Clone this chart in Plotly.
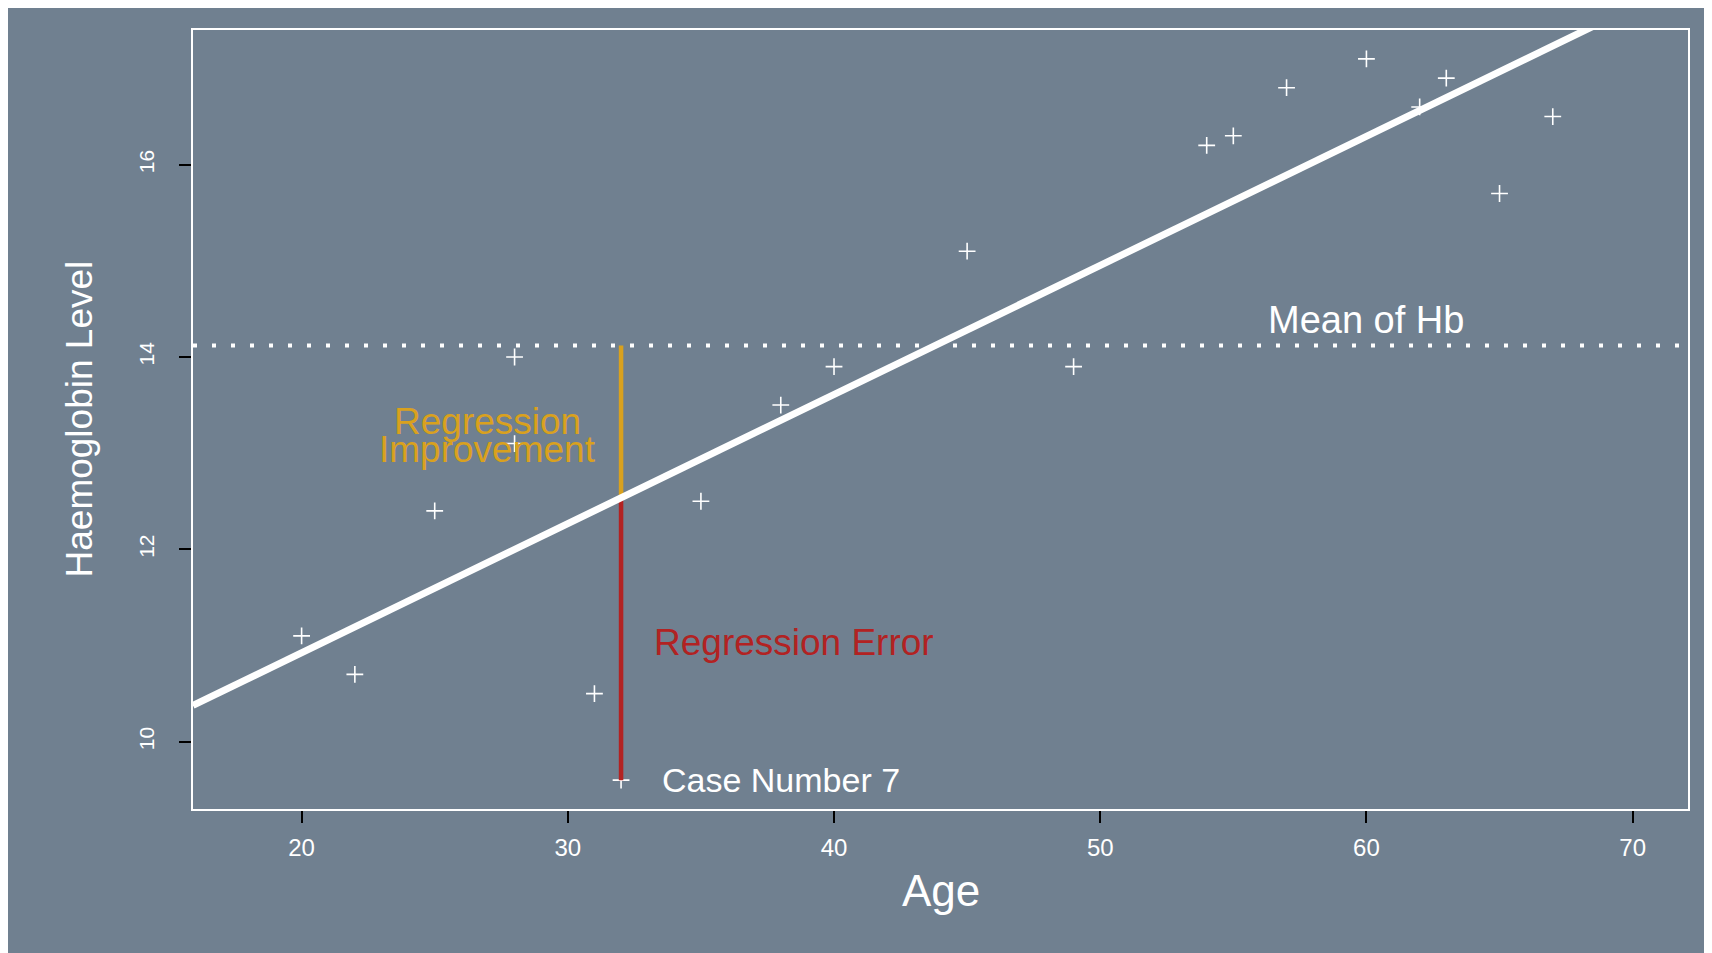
import numpy as np
import plotly.graph_objects as go

# ---- data ----
age = [20, 22, 25, 28, 28, 31, 32, 35, 38, 40, 45, 49, 54, 55, 57, 60, 62, 63, 65, 67]
hb = [11.1, 10.7, 12.4, 14.0, 13.1, 10.5, 9.6, 12.5, 13.5, 13.9, 15.1, 13.9,
      16.2, 16.3, 16.8, 17.1, 16.6, 16.9, 15.7, 16.5]
x_ticks = [20, 30, 40, 50, 60, 70]
y_ticks = [10, 12, 14, 16]
x_limits = [18, 70]
case_number = 7

# ---- derived quantities ----
slope, intercept = np.polyfit(age, hb, 1)
mean_hb = float(np.mean(hb))
cx = age[case_number - 1]
cy = hb[case_number - 1]
fit_c = intercept + slope * cx

def r_range(lo, hi):
    pad = 0.04 * (hi - lo)
    return [lo - pad, hi + pad]

xr = r_range(*x_limits)
yr = r_range(min(hb), max(hb))

BG = "#708090"
GOLD = "#D9A11E"
RED = "#B22222"
FONT = "Liberation Sans, Arial, Helvetica, sans-serif"

fig = go.Figure()

# points
fig.add_trace(go.Scatter(
    x=age, y=hb, mode="markers",
    marker=dict(symbol="cross-thin", size=12, line=dict(color="white", width=1.6)),
    hoverinfo="skip", showlegend=False))

# mean line (dotted)
fig.add_trace(go.Scatter(
    x=xr, y=[mean_hb, mean_hb], mode="lines",
    line=dict(color="white", width=4, dash="4px,15px"),
    hoverinfo="skip", showlegend=False))

# regression improvement segment
fig.add_trace(go.Scatter(
    x=[cx, cx], y=[mean_hb, fit_c], mode="lines",
    line=dict(color=GOLD, width=4.5), hoverinfo="skip", showlegend=False))

# regression error segment
fig.add_trace(go.Scatter(
    x=[cx, cx], y=[fit_c, cy], mode="lines",
    line=dict(color=RED, width=4.5), hoverinfo="skip", showlegend=False))

# regression line
lx = np.array(xr)
fig.add_trace(go.Scatter(
    x=lx, y=intercept + slope * lx, mode="lines",
    line=dict(color="white", width=7), hoverinfo="skip", showlegend=False))

annotations = [
    dict(x=60, y=14.38, text="Mean of Hb", font=dict(color="white", size=38)),
    dict(x=27, y=13.33, text="Regression", font=dict(color=GOLD, size=37)),
    dict(x=27, y=13.04, text="Improvement", font=dict(color=GOLD, size=37)),
    dict(x=38.5, y=11.03, text="Regression Error", font=dict(color=RED, size=37)),
    dict(x=38.0, y=9.6, text="Case Number 7", font=dict(color="white", size=34)),
]
for a in annotations:
    a.update(xref="x", yref="y", showarrow=False, xanchor="center", yanchor="middle")

# axis titles
annotations.append(dict(xref="paper", yref="paper", x=0.5, y=0, yshift=-81,
                        text="Age", showarrow=False, xanchor="center", yanchor="middle",
                        font=dict(color="white", size=44)))
annotations.append(dict(xref="paper", yref="paper", x=0, y=0.5, xshift=-114,
                        text="Haemoglobin Level", textangle=-90, showarrow=False,
                        xanchor="center", yanchor="middle",
                        font=dict(color="white", size=37)))

axis_common = dict(showgrid=False, zeroline=False, showline=True, mirror=True,
                   linecolor="white", linewidth=1.5, ticks="outside", ticklen=12,
                   tickwidth=1.5, tickcolor="black")

fig.update_layout(
    width=1704, height=945,
    margin=dict(l=185, r=24, t=22, b=144),
    paper_bgcolor=BG, plot_bgcolor=BG,
    font=dict(family=FONT, color="white"),
    xaxis=dict(range=xr, tickvals=x_ticks, ticktext=[str(v) for v in x_ticks],
               tickfont=dict(size=24, color="white"), ticklabelstandoff=4, **axis_common),
    yaxis=dict(range=yr, tickvals=y_ticks, ticktext=[str(v) for v in y_ticks],
               tickangle=-90, tickfont=dict(size=21, color="white"),
               ticklabelstandoff=17, **axis_common),
    annotations=annotations,
    showlegend=False,
)

fig.write_html("out.html")
